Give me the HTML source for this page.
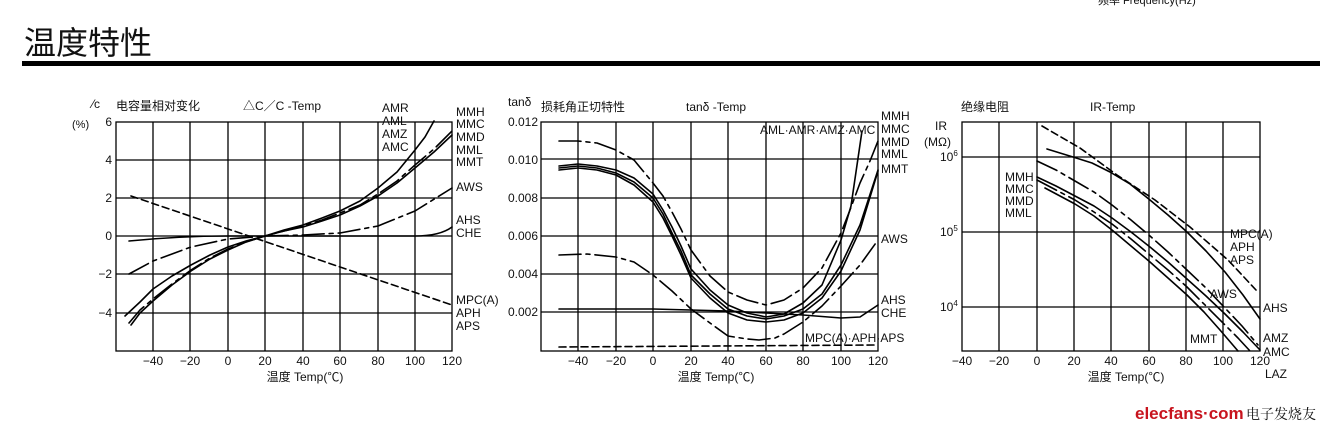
<!DOCTYPE html>
<html><head><meta charset="utf-8"><style>
html,body{margin:0;padding:0;background:#fff;width:1339px;height:435px;overflow:hidden}
svg{display:block}
text{font-family:"Liberation Sans","Noto Sans CJK SC",sans-serif;fill:#111}
.g{stroke:#000;stroke-width:1.3;fill:none}
.c{stroke:#000;stroke-width:1.6;fill:none;stroke-linejoin:round;stroke-linecap:round}
.dd{stroke-dasharray:22 5 4 5}
.ds{stroke-dasharray:7 4}
.l{font-size:12px}
.t{font-size:12px}
</style></head><body>
<svg width="1339" height="435" viewBox="0 0 1339 435" xmlns="http://www.w3.org/2000/svg">
<text x="1098" y="4" font-size="11">频率 Frequency(Hz)</text>
<text x="24" y="54" font-size="32" style="font-family:'Noto Sans CJK SC',sans-serif">温度特性</text>
<rect x="22" y="61" width="1298" height="5" fill="#000"/>

<!-- Chart 1 -->
<g>
<rect class="g" x="116" y="122" width="336" height="229"/>
<path class="g" d="M153,122V351M190,122V351M228,122V351M265,122V351M303,122V351M340,122V351M378,122V351M415,122V351M116,160H452M116,198H452M116,236H452M116,274H452M116,313H452"/>
<g class="t" text-anchor="end"><text x="112" y="126">6</text><text x="112" y="164">4</text><text x="112" y="202">2</text><text x="112" y="240">0</text><text x="112" y="278">−2</text><text x="112" y="317">−4</text></g>
<g class="t" text-anchor="middle"><text x="153" y="365">−40</text><text x="190" y="365">−20</text><text x="228" y="365">0</text><text x="265" y="365">20</text><text x="303" y="365">40</text><text x="340" y="365">60</text><text x="378" y="365">80</text><text x="415" y="365">100</text><text x="452" y="365">120</text></g>
<text x="305" y="381" class="t" text-anchor="middle">温度  Temp(℃)</text>
<text x="92" y="108" font-size="12">⁄c</text>
<text x="72" y="128" font-size="11">(%)</text>
<text x="116" y="110" class="t">电容量相对变化</text>
<text x="243" y="110" class="t">△C／C  -Temp</text>
<polyline class="c ds" points="131,196 452,305"/>
<path class="c" d="M129,241 Q180,236 228,236 L415,236 Q440,236 452,227"/>
<polyline class="c dd" points="129,274 153,261 191,247 228,239 265,236 303,235 340,233 378,226 415,211 452,188"/>
<polyline class="c" points="125,316 140,302 153,289 172,276 191,265 210,255 228,247 246,241 265,236 284,230 303,225 322,218 340,211 360,201 378,188 397,172 415,150 425,137 434,121"/>
<polyline class="c dd" points="129,323 140,310 153,299 172,284 191,270 210,258 228,249 246,242 265,236 284,231 303,226 322,220 340,213 360,205 378,194 397,181 415,165 434,149 452,131"/>
<polyline class="c" points="131,325 140,313 153,301 172,285 191,271 210,259 228,250 246,242 265,236 284,231 303,227 322,221 340,215 360,206 378,196 397,183 415,168 434,152 452,135"/>
<g class="l"><text x="382" y="112">AMR</text><text x="382" y="125">AML</text><text x="382" y="138">AMZ</text><text x="382" y="151">AMC</text>
<text x="456" y="116">MMH</text><text x="456" y="128">MMC</text><text x="456" y="141">MMD</text><text x="456" y="154">MML</text><text x="456" y="166">MMT</text><text x="456" y="191">AWS</text><text x="456" y="224">AHS</text><text x="456" y="237">CHE</text><text x="456" y="304">MPC(A)</text><text x="456" y="317">APH</text><text x="456" y="330">APS</text></g>
</g>

<!-- Chart 2 -->
<g>
<rect class="g" x="541" y="122" width="337" height="229"/>
<path class="g" d="M578,122V351M616,122V351M653,122V351M691,122V351M728,122V351M766,122V351M803,122V351M841,122V351M541,159H878M541,198H878M541,236H878M541,274H878M541,312H878"/>
<g class="t" text-anchor="end"><text x="538" y="126">0.012</text><text x="538" y="164">0.010</text><text x="538" y="202">0.008</text><text x="538" y="240">0.006</text><text x="538" y="278">0.004</text><text x="538" y="316">0.002</text></g>
<g class="t" text-anchor="middle"><text x="578" y="365">−40</text><text x="616" y="365">−20</text><text x="653" y="365">0</text><text x="691" y="365">20</text><text x="728" y="365">40</text><text x="766" y="365">60</text><text x="803" y="365">80</text><text x="841" y="365">100</text><text x="878" y="365">120</text></g>
<text x="716" y="381" class="t" text-anchor="middle">温度  Temp(℃)</text>
<text x="508" y="106" class="t">tanδ</text>
<text x="541" y="111" class="t">损耗角正切特性</text>
<text x="686" y="111" class="t">tanδ -Temp</text>
<polyline class="c ds" points="559,347 875,345"/>
<polyline class="c" points="559,309 653,309 728,311 766,313 803,315 841,318 860,317 878,305"/>
<polyline class="c dd" points="559,255 587,254 616,257 634,262 653,275 672,291 691,309 710,323 728,336 747,339 759,340 775,338 784,334 803,322 822,306 841,286 860,265 878,240"/>
<polyline class="c dd" points="559,141 578,141 597,143 616,150 634,160 653,183 663,196 672,212 681,229 691,250 710,276 728,292 747,300 766,305 784,300 803,288 822,268 841,233 850,210 860,183 870,161 878,141"/>
<polyline class="c" points="559,166 578,164 597,166 616,170 634,178 653,194 663,210 672,227 681,246 691,269 710,290 728,305 747,313 766,317 784,314 803,303 822,285 841,240 851,206 862,131"/>
<polyline class="c" points="559,168 578,166 597,168 616,173 634,182 653,198 663,214 672,233 681,251 691,275 710,294 728,309 747,316 766,319 784,316 803,309 822,294 841,265 860,225 878,170"/>
<polyline class="c" points="559,170 578,168 597,170 616,175 634,185 653,202 663,218 672,236 681,255 691,278 710,298 728,313 747,320 766,322 784,320 803,313 822,298 841,271 860,230 878,171"/>
<g class="l"><text x="760" y="134">AML·AMR·AMZ·AMC</text>
<text x="881" y="120">MMH</text><text x="881" y="133">MMC</text><text x="881" y="146">MMD</text><text x="881" y="158">MML</text><text x="881" y="173">MMT</text><text x="881" y="243">AWS</text><text x="881" y="304">AHS</text><text x="881" y="317">CHE</text><text x="805" y="342">MPC(A)·APH·APS</text></g>
</g>

<!-- Chart 3 -->
<g>
<rect class="g" x="962" y="122" width="298" height="229"/>
<path class="g" d="M999,122V351M1037,122V351M1074,122V351M1111,122V351M1149,122V351M1186,122V351M1223,122V351M962,157H1260M962,232H1260M962,307H1260"/>
<g class="t"><text x="940" y="161">10<tspan font-size="8" dy="-5">6</tspan></text><text x="940" y="236">10<tspan font-size="8" dy="-5">5</tspan></text><text x="940" y="311">10<tspan font-size="8" dy="-5">4</tspan></text></g>
<g class="t" text-anchor="middle"><text x="962" y="365">−40</text><text x="999" y="365">−20</text><text x="1037" y="365">0</text><text x="1074" y="365">20</text><text x="1111" y="365">40</text><text x="1149" y="365">60</text><text x="1186" y="365">80</text><text x="1223" y="365">100</text><text x="1260" y="365">120</text></g>
<text x="1126" y="381" class="t" text-anchor="middle">温度  Temp(℃)</text>
<text x="961" y="111" class="t">绝缘电阻</text>
<text x="1090" y="111" class="t">IR-Temp</text>
<text x="935" y="130" class="t">IR</text>
<text x="924" y="146" class="t">(MΩ)</text>
<polyline class="c ds" points="1042,126 1080,148 1117,175 1155,200 1190,227 1228,260 1256,290"/>
<polyline class="c" points="1047,149 1073,157 1092,163 1110,172 1130,184 1150,200 1168,215 1187,232 1206,251 1225,272 1243,295 1260,319"/>
<polyline class="c dd" points="1037,161 1056,170 1075,181 1094,192 1112,205 1131,220 1150,236 1168,252 1187,270 1206,288 1225,308 1242,326 1258,345"/>
<polyline class="c" points="1037,177 1056,186 1075,196 1094,206 1112,218 1131,232 1150,247 1168,262 1187,279 1206,296 1225,314 1243,332 1260,350"/>
<polyline class="c dd" points="1037,180 1056,190 1075,200 1094,212 1112,224 1131,239 1150,255 1168,270 1187,287 1206,306 1225,325 1238,338 1250,351"/>
<polyline class="c" points="1045,188 1060,196 1075,204 1094,216 1112,230 1131,246 1150,262 1168,278 1187,295 1204,312 1220,330 1238,351"/>
<g class="l"><text x="1005" y="181">MMH</text><text x="1005" y="193">MMC</text><text x="1005" y="205">MMD</text><text x="1005" y="217">MML</text>
<text x="1230" y="238">MPC(A)</text><text x="1230" y="251">APH</text><text x="1230" y="264">APS</text><text x="1210" y="298">AWS</text><text x="1263" y="312">AHS</text><text x="1190" y="343">MMT</text><text x="1263" y="342">AMZ</text><text x="1263" y="356">AMC</text><text x="1265" y="378">LAZ</text></g>
</g>

<text x="1135" y="419" font-size="17" font-weight="bold" style="fill:#c8141e">elecfans·com</text>
<text x="1246" y="419" font-size="14" style="font-family:'Noto Serif CJK SC',serif">电子发烧友</text>
</svg>
</body></html>
